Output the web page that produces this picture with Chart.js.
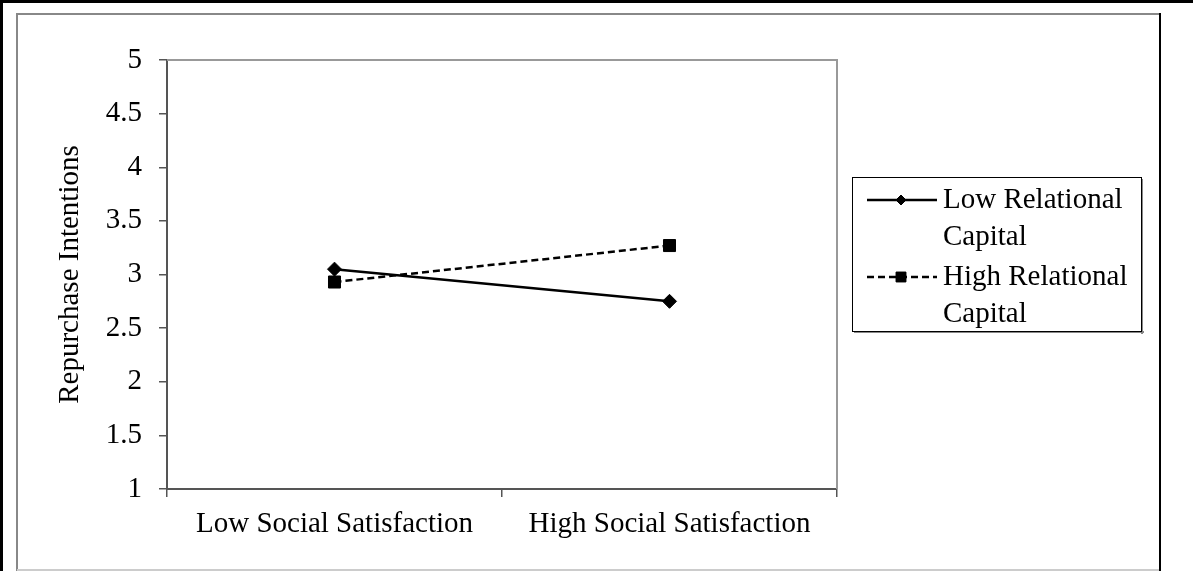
<!DOCTYPE html>
<html>
<head>
<meta charset="utf-8">
<script src="https://cdn.jsdelivr.net/npm/chart.js@4/dist/chart.umd.min.js"></script>
<style>
  html, body { margin: 0; padding: 0; background: #fff; }
  canvas { display: block; }
</style>
</head>
<body>
<canvas id="myChart" width="1193" height="571"></canvas>
<script>
const categories = ["Low Social Satisfaction", "High Social Satisfaction"];
const seriesNames = ["Low Relational Capital", "High Relational Capital"];
const lowRelational = [3.05, 2.75];
const highRelational = [2.93, 3.27];
const yMin = 1;
const yMax = 5;
const yStep = 0.5;
const yTitle = "Repurchase Intentions";

const serif = "'Liberation Serif', 'Times New Roman', serif";

// frames around the picture and the plot area
const framePlugin = {
  id: "frames",
  beforeDraw(chart) {
    const ctx = chart.ctx;
    ctx.save();
    ctx.fillStyle = "#fff";
    ctx.fillRect(0, 0, chart.width, chart.height);
    ctx.fillStyle = "#000";
    ctx.fillRect(0, 0, chart.width, 3);
    ctx.fillRect(0, 0, 3, chart.height);
    ctx.fillStyle = "#888";
    ctx.fillRect(17, 13, 1143, 2);
    ctx.fillRect(16, 13, 2, chart.height - 13);
    ctx.fillStyle = "#ccc";
    ctx.fillRect(17, 569, 1143, 2);
    ctx.fillStyle = "#000";
    ctx.fillRect(1159, 13, 2, chart.height - 13);
    ctx.restore();
  },
  afterDatasetsDraw(chart) {
    const {ctx, chartArea: a} = chart;
    ctx.save();
    ctx.strokeStyle = "#999";
    ctx.lineWidth = 2;
    ctx.beginPath();
    ctx.moveTo(a.left, a.top);
    ctx.lineTo(a.right, a.top);
    ctx.lineTo(a.right, a.bottom);
    ctx.stroke();
    ctx.restore();
  }
};

// legend in a box, labels wrapped over two lines
const boxLegend = {
  id: "boxLegend",
  afterDraw(chart) {
    const ctx = chart.ctx;
    const box = {x: 852, y: 177, w: 290, h: 155};
    ctx.save();
    ctx.fillStyle = "#888";
    ctx.fillRect(box.x + 2, box.y + box.h - 1, box.w, 2);
    ctx.fillRect(box.x + box.w - 1, box.y + 2, 2, box.h);
    ctx.strokeStyle = "#000";
    ctx.lineWidth = 1;
    ctx.strokeRect(box.x + 0.5, box.y + 0.5, box.w - 1, box.h - 1);

    ctx.font = "29px " + serif;
    ctx.textBaseline = "middle";
    ctx.fillStyle = "#000";
    const rowY = [200, 277];
    const legendRadius = [5, 7];
    chart.data.datasets.forEach((ds, i) => {
      const y = rowY[i];
      ctx.strokeStyle = "#000";
      ctx.lineWidth = 2.5;
      ctx.setLineDash(ds.borderDash || []);
      ctx.beginPath();
      ctx.moveTo(867, y);
      ctx.lineTo(937, y);
      ctx.stroke();
      ctx.setLineDash([]);
      ctx.lineWidth = 1;
      Chart.helpers.drawPoint(ctx, {
        pointStyle: ds.pointStyle,
        radius: legendRadius[i],
        borderWidth: 1
      }, 901, y);
      ctx.fill();

      const words = ds.label.split(" ");
      const lines = [];
      let cur = "";
      words.forEach(w => {
        const test = cur ? cur + " " + w : w;
        if (ctx.measureText(test).width > 190 && cur) {
          lines.push(cur);
          cur = w;
        } else {
          cur = test;
        }
      });
      lines.push(cur);
      lines.forEach((t, j) => ctx.fillText(t, 943, y + j * 37));
    });
    ctx.restore();
  }
};

const chartCtx = document.getElementById("myChart").getContext("2d");
const interactionChart = new Chart(chartCtx, {
  type: "line",
  data: {
    labels: categories,
    datasets: [
      {
        label: seriesNames[0],
        data: lowRelational,
        borderColor: "#000",
        backgroundColor: "#000",
        borderWidth: 2.5,
        pointStyle: "rectRot",
        pointRadius: 7,
        pointBorderWidth: 1,
        tension: 0
      },
      {
        label: seriesNames[1],
        data: highRelational,
        borderColor: "#000",
        backgroundColor: "#000",
        borderWidth: 2.5,
        borderDash: [7, 4],
        pointStyle: "rect",
        pointRadius: 8.5,
        pointBorderWidth: 1,
        tension: 0
      }
    ]
  },
  options: {
    responsive: false,
    animation: false,
    layout: {
      padding: { left: 17, right: 356, top: 60, bottom: 0 }
    },
    plugins: {
      legend: { display: false },
      tooltip: { enabled: false }
    },
    scales: {
      x: {
        offset: true,
        afterFit(scale) { scale.height = 82; },
        grid: {
          offset: true,
          drawOnChartArea: false,
          drawTicks: true,
          tickLength: 8,
          color: "#555",
          lineWidth: 1.5
        },
        border: { color: "#555", width: 2 },
        ticks: {
          color: "#000",
          padding: 10,
          maxRotation: 0,
          font: { family: serif, size: 29 }
        }
      },
      y: {
        min: yMin,
        max: yMax,
        afterFit(scale) { scale.width = 150; },
        grid: {
          drawOnChartArea: false,
          drawTicks: true,
          tickLength: 8,
          color: "#555",
          lineWidth: 1.5
        },
        border: { color: "#555", width: 2 },
        ticks: {
          stepSize: yStep,
          color: "#000",
          padding: 17,
          callback: v => String(Number(v)),
          font: { family: serif, size: 29 }
        },
        title: {
          display: true,
          text: yTitle,
          color: "#000",
          padding: { top: 36, bottom: 0 },
          font: { family: serif, size: 29 }
        }
      }
    }
  },
  plugins: [framePlugin, boxLegend]
});
</script>
</body>
</html>
